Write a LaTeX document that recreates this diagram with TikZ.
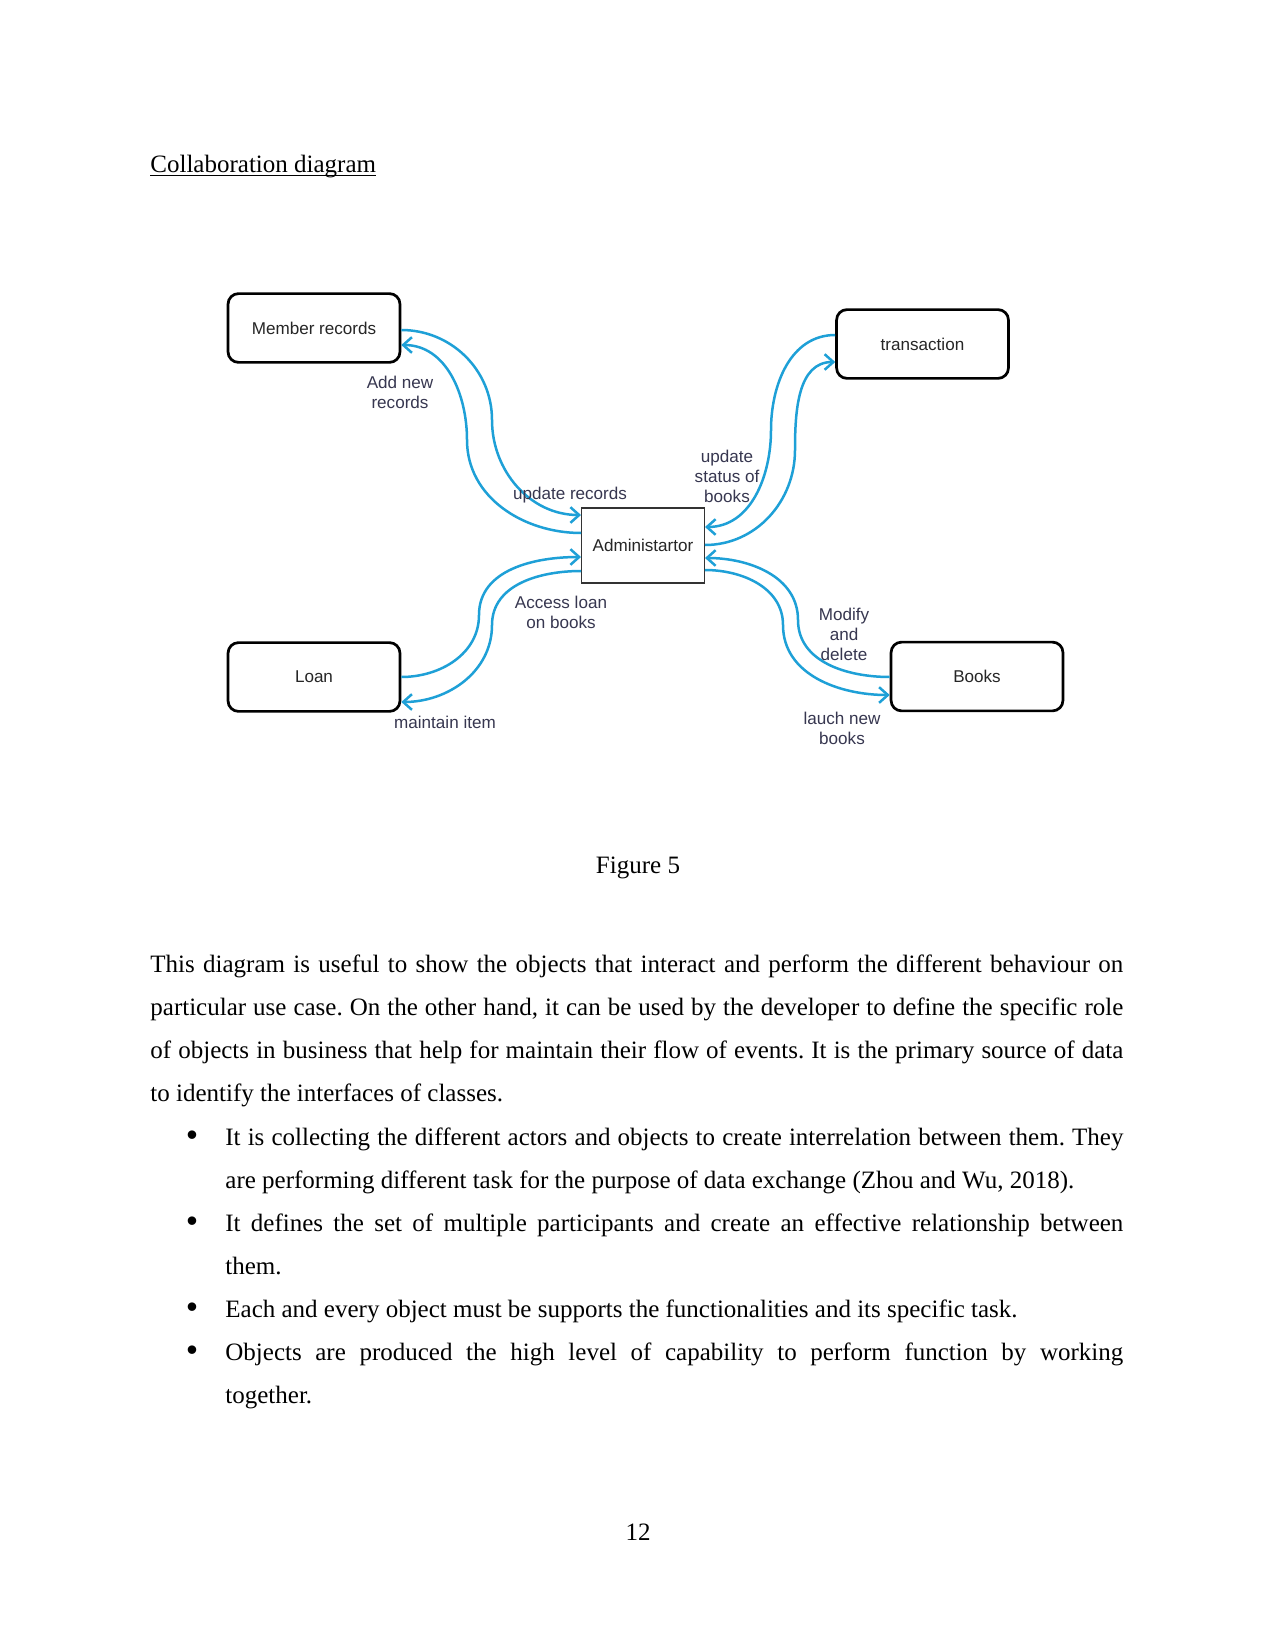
\documentclass[tikz,border=0pt]{standalone}
\usepackage{fontspec}
\setmainfont{Liberation Serif}
\newfontfamily\diagfont{Liberation Sans}
\usetikzlibrary{arrows.meta}
\definecolor{msgblue}{RGB}{30,160,215}
\definecolor{lbltext}{RGB}{55,55,80}
\tikzset{
  objbox/.style={draw, line width=1.3pt, rounded corners=5pt, minimum width=82.5pt, minimum height=33pt, font=\diagfont\fontsize{8.2}{9.6}\selectfont, text=black!85},
  adminbox/.style={draw=black!80, line width=0.7pt, minimum width=58.8pt, minimum height=36.2pt, font=\diagfont\fontsize{8.2}{9.6}\selectfont, text=black!85},
  lbl/.style={align=center, inner sep=0pt, font=\diagfont\fontsize{8.2}{9.6}\selectfont, text=lbltext},
  msg/.style={draw=msgblue, line width=1.2pt, -{Straight Barb[length=4.2pt,width=7.5pt]}},
  bodytext/.style={anchor=base west, inner sep=0pt, align=justify, font=\fontsize{12}{20.7}\selectfont\frenchspacing},
  dotmark/.style={anchor=base, inner sep=0pt, font=\diagfont\fontsize{15}{16}\selectfont}
}
\begin{document}
\begin{tikzpicture}[x=0.48pt, y=-0.48pt]
\useasboundingbox (0,0) rectangle (1275,1651);
\fill[white] (0,0) rectangle (1275,1651);

\node[anchor=base west, inner sep=0pt, font=\fontsize{12}{14}\selectfont] (title) at (150,173) {Collaboration diagram};
\draw[line width=0.6pt] ([yshift=-1.1pt]title.base west) -- ([yshift=-1.1pt]title.base east);

\node[objbox] (memb) at (314,328) {Member records};
\node[objbox] (trans) at (922.5,344) {transaction};
\node[objbox] (loan) at (314,677) {Loan};
\node[objbox] (books) at (977,676.5) {Books};
\node[adminbox] (admin) at (643,545.5) {Administartor};

\draw[msg] (memb.east |- 0,330) to[out=0,in=90] (492,420) to[out=-90,in=180] (admin.west |- 0,515);
\draw[msg] (admin.west |- 0,533) to[out=180,in=-90] (467,440) to[out=90,in=0] (memb.east |- 0,345);
\draw[msg] (trans.west |- 0,335) to[out=180,in=90] (771,430) to[out=-90,in=0] (admin.east |- 0,527);
\draw[msg] (admin.east |- 0,545) to[out=0,in=-90] (795,450) to[out=90,in=180] (trans.west |- 0,362);
\draw[msg] (loan.east |- 0,677) to[out=0,in=-90] (479,615) to[out=90,in=180] (admin.west |- 0,557);
\draw[msg] (admin.west |- 0,571) to[out=180,in=90] (492,625) to[out=-90,in=0] (loan.east |- 0,702);
\draw[msg] (books.west |- 0,677) to[out=180,in=-90] (798,620) to[out=90,in=0] (admin.east |- 0,558);
\draw[msg] (admin.east |- 0,570) to[out=0,in=90] (783,625) to[out=-90,in=180] (books.west |- 0,695);

\node[lbl] (addrec) at (400,392) {Add new\\records};
\node[lbl] (updrec) at (570,495) {update records};
\node[lbl] (updstat) at (727,476) {update\\status of\\books};
\node[lbl] (access) at (561,612) {Access loan\\on books};
\node[lbl] (maint) at (445,722) {maintain item};
\node[lbl] (modify) at (844,634) {Modify\\and\\delete};
\node[lbl] (launch) at (842,728) {lauch new\\books};

\node[anchor=base, inner sep=0pt, font=\fontsize{12}{14}\selectfont] (caption) at (638,873) {Figure 5};

\node[bodytext, text width=467pt] (para) at (150,972) {This diagram is useful to show the objects that interact and perform the different behaviour on\linebreak particular use case. On the other hand, it can be used by the developer to define the specific role\linebreak of objects in business that help for maintain their flow of events. It is the primary source of data\linebreak to identify the interfaces of classes.};

\node[dotmark] (dot1) at (192,1145) {•};
\node[dotmark] (dot2) at (192,1231) {•};
\node[dotmark] (dot3) at (192,1317) {•};
\node[dotmark] (dot4) at (192,1360) {•};

\node[bodytext, text width=431pt] (item1) at (225,1145) {It is collecting the different actors and objects to create interrelation between them. They\linebreak are performing different task for the purpose of data exchange (Zhou and Wu, 2018).};
\node[bodytext, text width=431pt] (item2) at (225,1231) {It defines the set of multiple participants and create an effective relationship between\linebreak them.};
\node[bodytext, text width=431pt] (item3) at (225,1317) {Each and every object must be supports the functionalities and its specific task.};
\node[bodytext, text width=431pt] (item4) at (225,1360) {Objects are produced the high level of capability to perform function by working\linebreak together.};

\node[anchor=base, inner sep=0pt, font=\fontsize{12}{14}\selectfont] (pageno) at (638,1540) {12};
\end{tikzpicture}
\end{document}
